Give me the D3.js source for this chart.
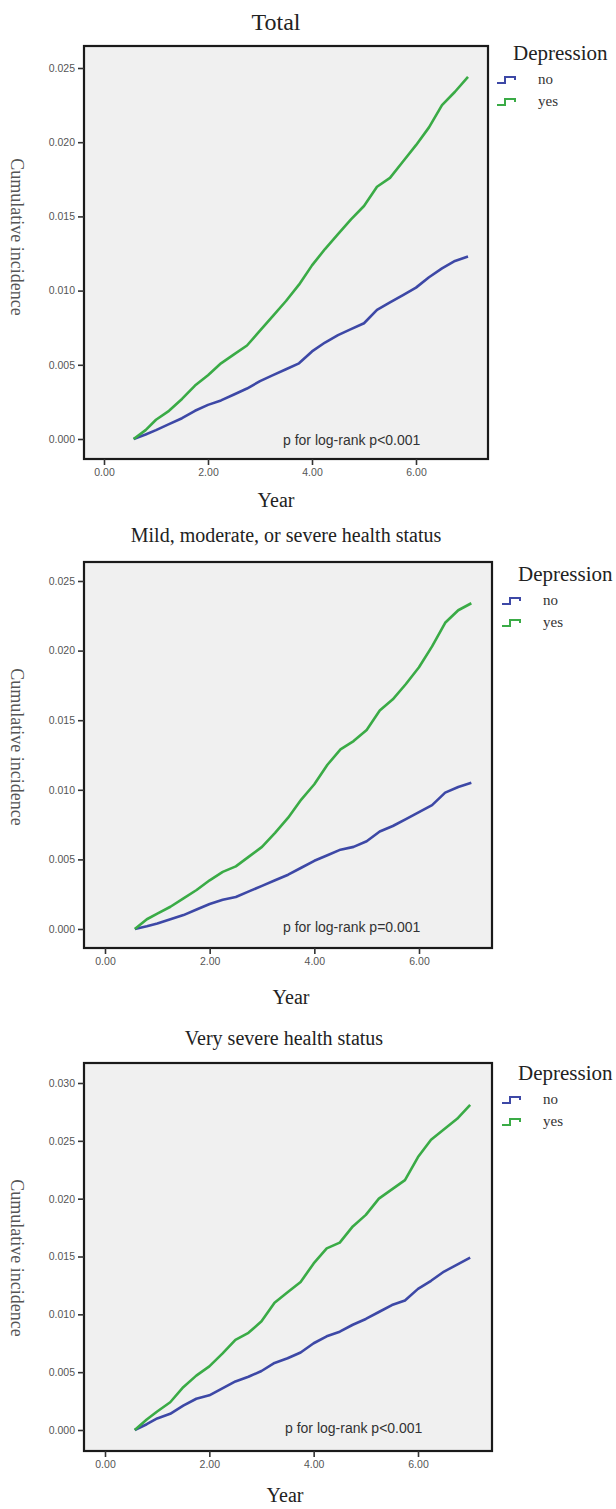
<!doctype html>
<html lang="en">
<head>
<meta charset="utf-8">
<title>Cumulative incidence by depression</title>
<script src="https://d3js.org/d3.v7.min.js"></script>
<style>
  body { margin: 0; background: #fff; }
  .serif { font-family: "Liberation Serif", "Times New Roman", serif; }
  .sans { font-family: "Liberation Sans", Arial, sans-serif; }
  .tick-label { font-size: 10.5px; fill: #555; }
</style>
</head>
<body>
<script>
// ---- data ----
const years = [0.57, 0.8, 1.0, 1.25, 1.5, 1.75, 2.0, 2.25, 2.5, 2.75, 3.0, 3.25, 3.5,
               3.75, 4.0, 4.25, 4.5, 4.75, 5.0, 5.25, 5.5, 5.75, 6.0, 6.25, 6.5, 6.75, 7.0];

const totalNo  = [0, 0.0003, 0.0006, 0.0010, 0.0014, 0.0019, 0.0023, 0.0026, 0.0030, 0.0034, 0.0039, 0.0043, 0.0047,
                  0.0051, 0.0059, 0.0065, 0.0070, 0.0074, 0.0078, 0.0087, 0.0092, 0.0097, 0.0102, 0.0109, 0.0115, 0.0120, 0.0123];
const totalYes = [0, 0.0006, 0.0013, 0.0019, 0.0027, 0.0036, 0.0043, 0.0051, 0.0057, 0.0063, 0.0073, 0.0083, 0.0093,
                  0.0104, 0.0117, 0.0128, 0.0138, 0.0148, 0.0157, 0.0170, 0.0176, 0.0187, 0.0198, 0.0210, 0.0225, 0.0234, 0.0244];

const mildNo  = [0, 0.0002, 0.0004, 0.0007, 0.0010, 0.0014, 0.0018, 0.0021, 0.0023, 0.0027, 0.0031, 0.0035, 0.0039,
                 0.0044, 0.0049, 0.0053, 0.0057, 0.0059, 0.0063, 0.0070, 0.0074, 0.0079, 0.0084, 0.0089, 0.0098, 0.0102, 0.0105];
const mildYes = [0, 0.0007, 0.0011, 0.0016, 0.0022, 0.0028, 0.0035, 0.0041, 0.0045, 0.0052, 0.0059, 0.0069, 0.0080,
                 0.0093, 0.0104, 0.0118, 0.0129, 0.0135, 0.0143, 0.0157, 0.0165, 0.0176, 0.0188, 0.0203, 0.0220, 0.0229, 0.0234];

const severeNo  = [0, 0.0005, 0.0010, 0.0014, 0.0021, 0.0027, 0.0030, 0.0036, 0.0042, 0.0046, 0.0051, 0.0058, 0.0062,
                   0.0067, 0.0075, 0.0081, 0.0085, 0.0091, 0.0096, 0.0102, 0.0108, 0.0112, 0.0122, 0.0129, 0.0137, 0.0143, 0.0149];
const severeYes = [0, 0.0009, 0.0016, 0.0024, 0.0037, 0.0047, 0.0055, 0.0066, 0.0078, 0.0084, 0.0094, 0.0110, 0.0119,
                   0.0128, 0.0144, 0.0157, 0.0162, 0.0176, 0.0186, 0.0200, 0.0208, 0.0216, 0.0236, 0.0251, 0.0260, 0.0269, 0.0281];

const groups = ["no", "yes"];
const titles = ["Total", "Mild, moderate, or severe health status", "Very severe health status"];
const pLabels = ["p for log-rank p<0.001", "p for log-rank p=0.001", "p for log-rank p<0.001"];
const xTicks = [0, 2, 4, 6];
const yTicksA = [0, 0.005, 0.010, 0.015, 0.020, 0.025];
const yTicksB = [0, 0.005, 0.010, 0.015, 0.020, 0.025, 0.030];

// ---- layout ----
const W = 616, H = 1509;
const colors = { no: "#3d48a6", yes: "#3aab46" };

const panels = [
  { title: titles[0], titleSize: 24, titleX: 276, titleY: 22,
    box: { l: 84, r: 488, t: 46, b: 459 }, x0: 104, x6: 416, y0: 439, yTop: 68,
    yTicks: yTicksA, no: totalNo, yes: totalYes, p: pLabels[0], pX: 283, pY: 440,
    legY: 53, ylabY: 237, yearX: 276, yearY: 500, legX: 497 },
  { title: titles[1], titleSize: 20, titleX: 286, titleY: 535,
    box: { l: 84, r: 492, t: 562, b: 948 }, x0: 105, x6: 419, y0: 929, yTop: 581,
    yTicks: yTicksA, no: mildNo, yes: mildYes, p: pLabels[1], pX: 283, pY: 927,
    legY: 574, ylabY: 747, yearX: 291, yearY: 997, legX: 502 },
  { title: titles[2], titleSize: 20, titleX: 284, titleY: 1038,
    box: { l: 84, r: 492, t: 1063, b: 1451 }, x0: 105, x6: 418, y0: 1430, yTop: 1083,
    yTicks: yTicksB, no: severeNo, yes: severeYes, p: pLabels[2], pX: 285, pY: 1428,
    legY: 1073, ylabY: 1258, yearX: 285, yearY: 1495, legX: 502 }
];

const svg = d3.select("body").append("svg")
    .attr("width", W)
    .attr("height", H);

panels.forEach(p => {
  const g = svg.append("g");
  const yMax = p.yTicks[p.yTicks.length - 1];

  const x = d3.scaleLinear().domain([0, 6]).range([p.x0, p.x6]);
  const y = d3.scaleLinear().domain([0, yMax]).range([p.y0, p.yTop]);

  // title
  g.append("text").attr("class", "serif")
      .attr("x", p.titleX).attr("y", p.titleY)
      .attr("text-anchor", "middle").attr("dominant-baseline", "central")
      .style("font-size", p.titleSize + "px").style("fill", "#222")
      .text(p.title);

  // plot area
  g.append("rect")
      .attr("x", p.box.l).attr("y", p.box.t)
      .attr("width", p.box.r - p.box.l).attr("height", p.box.b - p.box.t)
      .style("fill", "#f0f0f0").style("stroke", "none");

  // curves
  groups.forEach(k => {
    const line = d3.line()
        .x((d, i) => x(years[i]))
        .y(d => y(d))
        .curve(d3.curveLinear);
    g.append("path")
        .datum(p[k])
        .attr("d", line)
        .style("fill", "none")
        .style("stroke", colors[k])
        .style("stroke-width", 2.6)
        .style("stroke-linejoin", "round");
  });

  // frame
  g.append("rect")
      .attr("x", p.box.l).attr("y", p.box.t)
      .attr("width", p.box.r - p.box.l).attr("height", p.box.b - p.box.t)
      .style("fill", "none").style("stroke", "#1a1a1a").style("stroke-width", 2.2);

  // y axis
  const yAxis = d3.axisLeft(y).tickValues(p.yTicks).tickFormat(d3.format(".3f"))
      .tickSize(6).tickPadding(3);
  const ya = g.append("g").attr("transform", `translate(${p.box.l},0)`).call(yAxis);
  ya.select(".domain").remove();
  ya.selectAll(".tick line").style("stroke", "#333").style("stroke-width", 1.6);
  ya.selectAll(".tick text").attr("class", "sans tick-label");

  // x axis
  const xAxis = d3.axisBottom(x).tickValues(xTicks).tickFormat(d3.format(".2f"))
      .tickSize(6).tickPadding(4);
  const xa = g.append("g").attr("transform", `translate(0,${p.box.b})`).call(xAxis);
  xa.select(".domain").remove();
  xa.selectAll(".tick line").style("stroke", "#333").style("stroke-width", 1.6);
  xa.selectAll(".tick text").attr("class", "sans tick-label");

  // p value note
  g.append("text").attr("class", "sans")
      .attr("x", p.pX).attr("y", p.pY)
      .attr("dominant-baseline", "central")
      .style("font-size", "14px").style("fill", "#333")
      .text(p.p);

  // axis titles
  g.append("text").attr("class", "serif")
      .attr("transform", `translate(17,${p.ylabY}) rotate(90)`)
      .attr("text-anchor", "middle").attr("dominant-baseline", "central")
      .style("font-size", "18px").style("fill", "#555")
      .text("Cumulative incidence");

  g.append("text").attr("class", "serif")
      .attr("x", p.yearX).attr("y", p.yearY)
      .attr("text-anchor", "middle").attr("dominant-baseline", "central")
      .style("font-size", "20px").style("fill", "#222")
      .text("Year");

  // legend
  const leg = g.append("g").attr("transform", `translate(${p.legX},${p.legY})`);
  leg.append("text").attr("class", "serif")
      .attr("x", 16).attr("y", 0)
      .attr("dominant-baseline", "central")
      .style("font-size", "21px").style("fill", "#222")
      .text("Depression");
  groups.forEach((k, i) => {
    const row = leg.append("g").attr("transform", `translate(0,${27 + i * 22})`);
    row.append("path")
        .attr("d", "M0,3H8V-3H18V0")
        .style("fill", "none").style("stroke", colors[k])
        .style("stroke-width", 2);
    row.append("text").attr("class", "serif")
        .attr("x", 41).attr("y", -1)
        .attr("dominant-baseline", "central")
        .style("font-size", "15px").style("fill", "#333")
        .text(k);
  });
});
</script>
</body>
</html>
